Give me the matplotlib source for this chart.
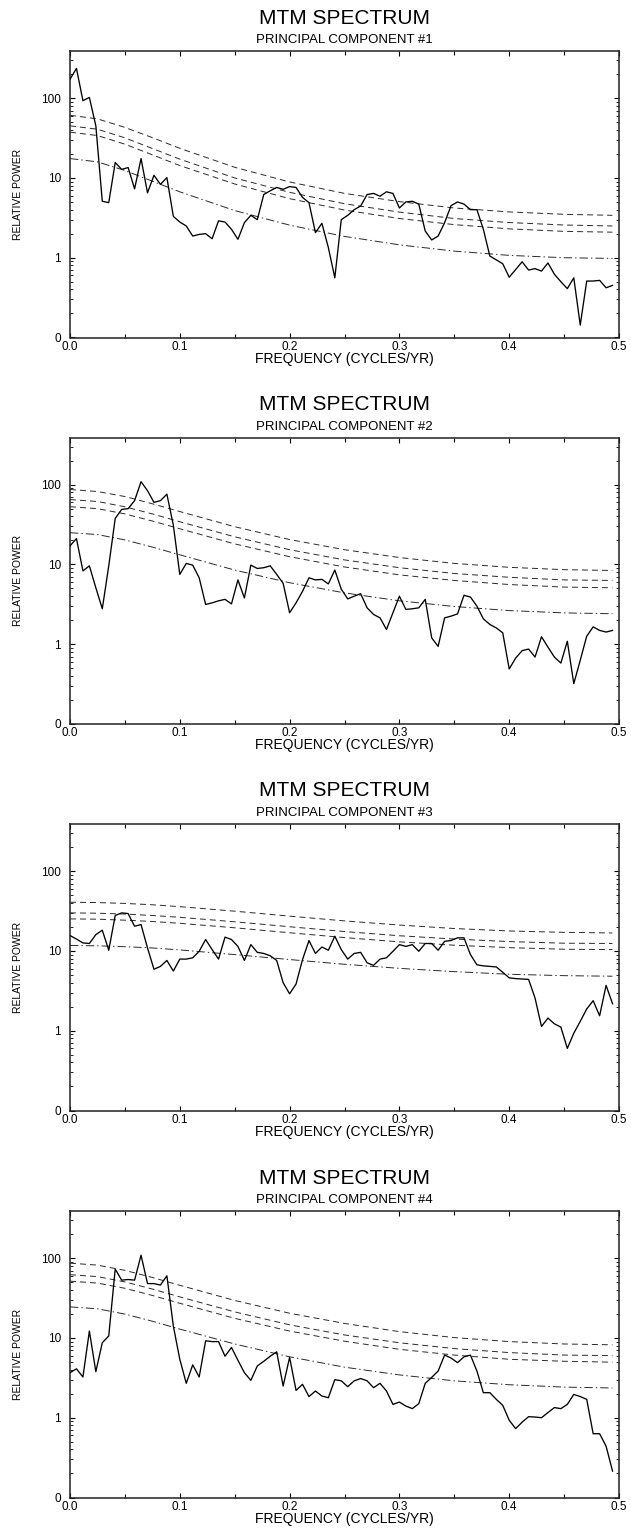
import numpy as np
import matplotlib
matplotlib.use("Agg")
import matplotlib.pyplot as plt
from matplotlib.ticker import FixedLocator, LogLocator, NullFormatter, MultipleLocator, FormatStrFormatter

plt.rcParams['font.family'] = ['Liberation Sans', 'DejaVu Sans']
plt.rcParams['lines.scale_dashes'] = False

# ---------------- data ----------------
# spectral estimates on the frequency grid (cycles/yr)
freq = np.arange(85) / 170.0

pc1 = [173, 236, 93, 102, 45, 5.1, 4.9, 15.6, 12.8, 13.5,
       7.3, 17.5, 6.5, 10.8, 8.3, 10.1, 3.3, 2.8, 2.5, 1.87,
       1.96, 2.0, 1.73, 2.9, 2.8, 2.27, 1.7, 2.75, 3.4, 3.0,
       6.2, 6.9, 7.6, 7.2, 7.8, 7.6, 5.7, 4.9, 2.06, 2.7,
       1.34, 0.56, 3.0, 3.4, 4.0, 4.45, 6.2, 6.4, 5.9, 6.7,
       6.4, 4.2, 5.0, 5.1, 4.7, 2.16, 1.67, 1.87, 2.75, 4.5,
       5.0, 4.7, 4.0, 4.0, 2.27, 1.05, 0.94, 0.84, 0.57, 0.71,
       0.89, 0.70, 0.73, 0.68, 0.86, 0.62, 0.50, 0.41, 0.56, 0.143,
       0.51, 0.51, 0.52, 0.42, 0.45]

pc2 = [17.1, 21.1, 8.3, 9.6, 5.1, 2.78, 9.6, 37.7, 49, 50,
       63, 109, 84, 60, 63, 76, 31, 7.5, 10.3, 9.8,
       6.8, 3.15, 3.3, 3.5, 3.65, 3.2, 6.4, 3.8, 9.8, 8.9,
       9.1, 9.6, 7.5, 5.8, 2.48, 3.3, 4.6, 6.8, 6.4, 6.5,
       5.7, 8.5, 4.9, 3.7, 4.0, 4.3, 2.86, 2.36, 2.14, 1.53,
       2.48, 4.0, 2.73, 2.78, 2.86, 3.65, 1.2, 0.94, 2.14, 2.25,
       2.4, 4.1, 3.9, 3.0, 2.08, 1.77, 1.6, 1.39, 0.49, 0.67,
       0.83, 0.87, 0.69, 1.24, 0.92, 0.69, 0.58, 1.09, 0.32, 0.63,
       1.26, 1.65, 1.49, 1.42, 1.49]

pc3 = [15.6, 14.1, 12.6, 12.4, 16.0, 18.2, 10.2, 27.8, 30, 29.4,
       20.4, 21.4, 10.9, 5.9, 6.4, 7.6, 5.6, 7.9, 7.9, 8.2,
       9.9, 13.9, 10.4, 7.9, 14.9, 13.9, 11.4, 7.6, 12.0, 9.6,
       9.3, 8.7, 7.6, 4.0, 2.9, 3.85, 7.8, 13.5, 9.3, 11.2,
       10.2, 15.3, 10.4, 7.9, 9.3, 9.6, 7.1, 6.6, 7.9, 8.2,
       9.9, 12.0, 11.4, 12.0, 9.9, 12.4, 12.4, 10.2, 13.2, 13.5,
       14.6, 14.6, 9.0, 6.7, 6.5, 6.4, 6.3, 5.4, 4.6, 4.5,
       4.45, 4.4, 2.57, 1.13, 1.44, 1.22, 1.11, 0.6, 0.93, 1.31,
       1.87, 2.38, 1.54, 3.7, 2.18]

pc4 = [3.67, 4.1, 3.24, 12.2, 3.78, 8.7, 10.6, 73, 53, 54,
       53, 109, 48, 48, 46, 60, 14.1, 5.4, 2.7, 4.6,
       3.24, 9.2, 9.0, 9.0, 5.9, 7.6, 5.25, 3.67, 2.94, 4.45,
       5.1, 5.9, 6.7, 2.5, 5.7, 2.2, 2.62, 1.84, 2.16, 1.87,
       1.78, 3.0, 2.9, 2.45, 2.9, 3.1, 2.9, 2.38, 2.7, 2.16,
       1.47, 1.57, 1.4, 1.3, 1.5, 2.7, 3.2, 3.85, 6.1, 5.6,
       4.9, 5.8, 6.1, 3.85, 2.06, 2.06, 1.7, 1.43, 0.93, 0.73,
       0.88, 1.03, 1.02, 1.0, 1.16, 1.34, 1.3, 1.47, 1.96, 1.84,
       1.7, 0.63, 0.63, 0.44, 0.214]

# confidence levels / median background, read at these frequencies
level_freq = [0.0, 0.025, 0.05, 0.075, 0.1, 0.15, 0.2, 0.25, 0.3, 0.35, 0.4, 0.45, 0.494]

pc1_99 = [61, 55, 43, 32, 23.5, 13.6, 8.9, 6.4, 5.05, 4.2, 3.75, 3.5, 3.4]
pc1_95 = [45, 40.8, 31.8, 23.4, 17.2, 10.0, 6.6, 4.75, 3.73, 3.1, 2.76, 2.57, 2.5]
pc1_90 = [37.5, 34, 26.5, 19.5, 14.3, 8.4, 5.5, 3.96, 3.1, 2.6, 2.3, 2.14, 2.09]
pc1_50 = [17.5, 15.9, 12.4, 9.1, 6.7, 3.9, 2.56, 1.85, 1.45, 1.21, 1.07, 1.0, 0.98]

pc2_99 = [87, 82, 71, 57.6, 46, 29.7, 20.5, 15.3, 12.2, 10.3, 9.2, 8.6, 8.4]
pc2_95 = [65, 61.5, 52.8, 43, 34.3, 22.2, 15.3, 11.4, 9.1, 7.7, 6.9, 6.4, 6.3]
pc2_90 = [53, 50, 43, 35, 28, 18.1, 12.5, 9.3, 7.4, 6.3, 5.6, 5.2, 5.1]
pc2_50 = [25, 23.7, 20.3, 16.5, 13.2, 8.5, 5.9, 4.4, 3.5, 2.97, 2.64, 2.47, 2.41]

pc3_99 = [40.8, 40.4, 39.4, 37.9, 35.9, 31.5, 27.3, 23.8, 21.1, 19.1, 17.8, 17.1, 16.8]
pc3_95 = [30, 29.7, 29, 27.8, 26.4, 23.2, 20.1, 17.5, 15.5, 14.1, 13.1, 12.5, 12.4]
pc3_90 = [25.2, 25, 24.3, 23.4, 22.2, 19.5, 16.9, 14.7, 13.0, 11.8, 11.0, 10.5, 10.4]
pc3_50 = [11.7, 11.6, 11.3, 10.9, 10.3, 9.0, 7.8, 6.8, 6.05, 5.5, 5.1, 4.9, 4.82]

pc4_99 = [86.5, 81.8, 70.3, 57.3, 45.7, 29.5, 20.4, 15.2, 12.0, 10.1, 9.0, 8.4, 8.2]
pc4_95 = [62, 58.7, 50.4, 41, 32.7, 21.2, 14.6, 10.9, 8.7, 7.35, 6.55, 6.1, 6.0]
pc4_90 = [51.5, 48.7, 41.9, 34.1, 27.2, 17.6, 12.2, 9.1, 7.2, 6.1, 5.4, 5.1, 4.97]
pc4_50 = [24.5, 23.2, 19.9, 16.2, 12.9, 8.4, 5.8, 4.3, 3.44, 2.9, 2.59, 2.42, 2.36]

titles = ["PRINCIPAL COMPONENT #1", "PRINCIPAL COMPONENT #2",
          "PRINCIPAL COMPONENT #3", "PRINCIPAL COMPONENT #4"]
ytick_vals = [0.1, 1, 10, 100]
ytick_labels = ["0", "1", "10", "100"]

panels = [
    (pc1, pc1_99, pc1_95, pc1_90, pc1_50),
    (pc2, pc2_99, pc2_95, pc2_90, pc2_50),
    (pc3, pc3_99, pc3_95, pc3_90, pc3_50),
    (pc4, pc4_99, pc4_95, pc4_90, pc4_50),
]

# ---------------- layout ----------------
W, H = 631, 1529
fig = plt.figure(figsize=(W / 100, H / 100), dpi=100)

ax_left_px, ax_right_px = 70, 619
ax_h_px = 286.5
bottoms_px = [337.5, 724.0, 1110.5, 1497.5]

for k, (spec, c99, c95, c90, c50) in enumerate(panels):
    ax = fig.add_axes([ax_left_px / W, 1 - bottoms_px[k] / H,
                       (ax_right_px - ax_left_px) / W, ax_h_px / H])
    ax.set_yscale('log')

    ax.plot(freq, spec, color='black', lw=0.95, zorder=5)
    for c in (c99, c95, c90):
        ax.plot(level_freq, c, color='#2a2a2a', lw=0.7, dashes=(4.3, 2.9))
    ax.plot(level_freq, c50, color='#2a2a2a', lw=0.7, dashes=(6.0, 2.2, 1.0, 2.2))

    ax.set_xlim(0, 0.5)
    ax.set_ylim(0.1, 390)

    ax.yaxis.set_major_locator(FixedLocator(ytick_vals))
    ax.set_yticklabels(ytick_labels)
    ax.yaxis.set_minor_locator(LogLocator(base=10, subs=range(2, 10), numticks=50))
    ax.yaxis.set_minor_formatter(NullFormatter())
    ax.xaxis.set_major_locator(MultipleLocator(0.1))
    ax.xaxis.set_major_formatter(FormatStrFormatter('%.1f'))
    ax.xaxis.set_minor_locator(MultipleLocator(0.05))

    ax.tick_params(which='both', direction='in', top=True, right=True, colors='black')
    ax.tick_params(which='major', length=3.3, width=0.8, labelsize=8.5)
    ax.tick_params(axis='x', which='minor', length=3.0, width=0.8)
    ax.tick_params(axis='y', which='minor', length=2.0, width=0.6)
    ax.tick_params(axis='x', which='major', pad=2.3)
    ax.tick_params(axis='y', which='major', pad=6.5)

    for sp in ax.spines.values():
        sp.set_linewidth(1.1)
        sp.set_color('#222222')

    ax.set_xlabel('FREQUENCY (CYCLES/YR)', fontsize=10)
    ax.xaxis.set_label_coords(0.5, -21.5 / ax_h_px)
    ax.xaxis.label.set_va('center')
    ax.set_ylabel('RELATIVE POWER', fontsize=7.5)
    ax.yaxis.set_label_coords(-52 / (ax_right_px - ax_left_px), 0.5)
    ax.yaxis.label.set_va('center')

    ax.annotate('MTM SPECTRUM', xy=(0.5, 1), xycoords='axes fraction',
                xytext=(0, 33 * 0.72), textcoords='offset points',
                ha='center', va='center', fontsize=15)
    ax.annotate(titles[k], xy=(0.5, 1), xycoords='axes fraction',
                xytext=(0, 11 * 0.72), textcoords='offset points',
                ha='center', va='center', fontsize=9.5)

fig.savefig('out.png', dpi=100)
